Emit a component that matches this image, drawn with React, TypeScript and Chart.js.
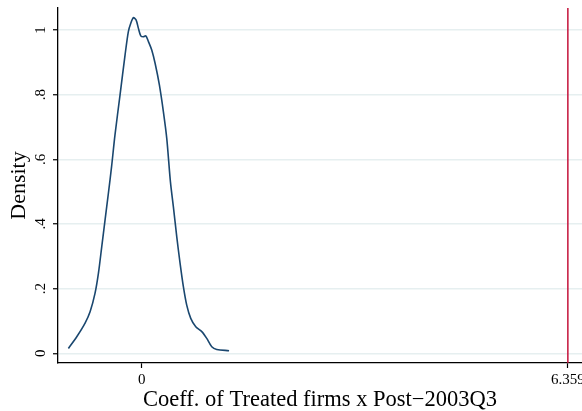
import React, { useEffect, useRef } from "react";
import { Chart, registerables } from "chart.js";

Chart.register(...registerables);

// Kernel density estimate of the placebo coefficients
const densityX = [
  -1.095, -0.97, -0.846, -0.77, -0.697, -0.647, -0.597, -0.548, -0.498, -0.45,
  -0.4, -0.324, -0.249, -0.2, -0.164, -0.125, -0.085, -0.05, -0.015, 0.024,
  0.06, 0.1, 0.149, 0.199, 0.263, 0.323, 0.373, 0.428, 0.472, 0.522,
  0.572, 0.621, 0.671, 0.731, 0.806, 0.896, 0.97, 1.045, 1.119, 1.303,
];
const densityY = [
  0.015, 0.051, 0.093, 0.129, 0.186, 0.247, 0.33, 0.412, 0.495, 0.578,
  0.675, 0.799, 0.923, 0.995, 1.021, 1.038, 1.031, 1.005, 0.982, 0.979,
  0.982, 0.964, 0.938, 0.897, 0.83, 0.747, 0.665, 0.53, 0.453, 0.361,
  0.278, 0.206, 0.149, 0.108, 0.082, 0.067, 0.046, 0.02, 0.012, 0.008,
];

// Actual (observed) coefficient
const observedCoef = 6.359;

// Axis ticks
const yTickValues = [0, 0.2, 0.4, 0.6, 0.8, 1];
const yTickLabels = ["0", ".2", ".4", ".6", ".8", "1"];
const xTickValues = [0, observedCoef];
const xTickLabels = ["0", "6.359"];

const xMin = -1.25;
const xMax = 6.57;
const yMin = -0.03;
const yMax = 1.068;

const xTitle = "Coeff. of Treated firms x Post\u22122003Q3";
const yTitle = "Density";

const FONT = "'Liberation Serif', 'Times New Roman', serif";

export default function App() {
  const ref = useRef<HTMLCanvasElement | null>(null);

  useEffect(() => {
    if (!ref.current) return;
    const chart = new Chart(ref.current, {
      type: "scatter",
      data: {
        datasets: [
          {
            data: densityX.map((x, i) => ({ x, y: densityY[i] })),
            showLine: true,
            borderColor: "#1a476f",
            borderWidth: 1.6,
            pointRadius: 0,
            tension: 0.3,
            fill: false,
          },
          {
            data: [
              { x: observedCoef, y: yMin },
              { x: observedCoef, y: yMax },
            ],
            showLine: true,
            borderColor: "#c4123a",
            borderWidth: 1.5,
            pointRadius: 0,
            fill: false,
          },
        ],
      },
      options: {
        responsive: false,
        animation: false,
        maintainAspectRatio: false,
        layout: { padding: { top: 8, left: 0, right: 0, bottom: 0 } },
        plugins: {
          legend: { display: false },
          tooltip: { enabled: false },
        },
        scales: {
          x: {
            type: "linear",
            min: xMin,
            max: xMax,
            afterBuildTicks: (s: any) => {
              s.ticks = xTickValues.map((v) => ({ value: v }));
            },
            afterFit: (s: any) => {
              s.height = 48;
              s.paddingLeft = 0;
              s.paddingRight = 0;
            },
            ticks: {
              autoSkip: false,
              maxRotation: 0,
              minRotation: 0,
              padding: 3,
              color: "#000",
              font: { family: FONT, size: 15 },
              callback: (v: any) => {
                const i = xTickValues.indexOf(Number(v));
                return i >= 0 ? xTickLabels[i] : "";
              },
            },
            grid: {
              drawOnChartArea: false,
              tickLength: 5,
              tickColor: "#000",
              tickWidth: 1.2,
            },
            border: { color: "#000", width: 1.3 },
            title: {
              display: true,
              text: xTitle,
              color: "#000",
              font: { family: FONT, size: 22.5, lineHeight: 0.95 },
              padding: { top: 0, bottom: 0 },
            },
          },
          y: {
            type: "linear",
            min: yMin,
            max: yMax,
            afterBuildTicks: (s: any) => {
              s.ticks = yTickValues.map((v) => ({ value: v }));
            },
            afterFit: (s: any) => {
              s.width = 58;
              s.paddingTop = 0;
              s.paddingBottom = 0;
            },
            ticks: {
              autoSkip: false,
              minRotation: 90,
              maxRotation: 90,
              crossAlign: "center",
              padding: 6,
              color: "#000",
              font: { family: FONT, size: 15 },
              callback: (v: any) => {
                const i = yTickValues.findIndex((t) => Math.abs(t - Number(v)) < 1e-9);
                return i >= 0 ? yTickLabels[i] : "";
              },
            },
            grid: {
              color: "#e6eff0",
              lineWidth: 1.5,
              tickLength: 5,
              tickColor: "#000",
              tickWidth: 1.2,
            },
            border: { color: "#000", width: 1.3 },
            title: {
              display: true,
              text: yTitle,
              color: "#000",
              font: { family: FONT, size: 22 },
              padding: { top: 6, bottom: 0 },
            },
          },
        },
      },
    });
    return () => chart.destroy();
  }, []);

  return (
    <div style={{ position: "absolute", left: 0, top: 0, width: 582, height: 411, background: "#fff" }}>
      <canvas ref={ref} width={582} height={411} style={{ display: "block" }} />
    </div>
  );
}
